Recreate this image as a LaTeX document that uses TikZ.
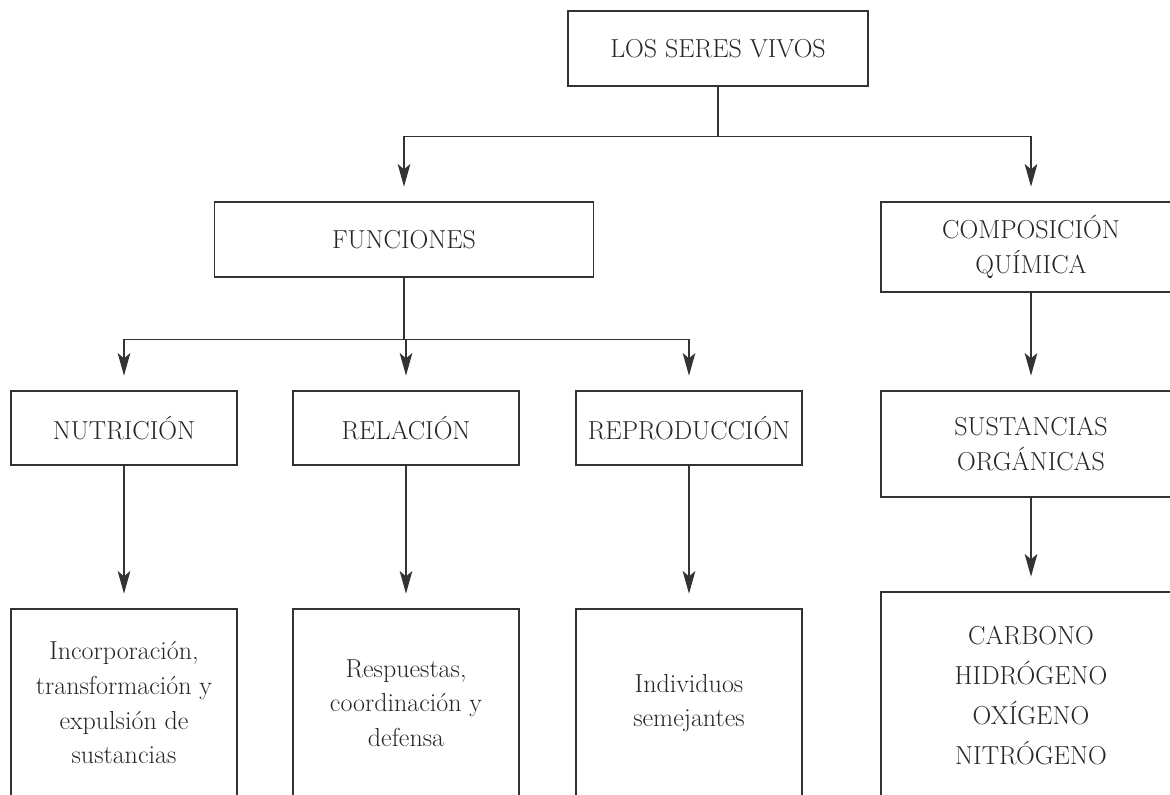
\documentclass[tikz,border=0pt]{standalone}
\usepackage{fontspec}
\usetikzlibrary{arrows.meta}
\definecolor{lineColor}{gray}{0.2}
\definecolor{textColor}{gray}{0.15}

\begin{document}
\begin{tikzpicture}[x=0.75pt,y=-0.75pt]

            \tikzstyle{conceptBox} = [draw=lineColor, line width=1pt, text=textColor, align=center, inner sep=0pt, font=\fontsize{19.5}{26}\selectfont];
            \tikzstyle{normalEdge} = [line width=1pt, lineColor];
            \tikzstyle{arrowEdge} = [normalEdge, -{Stealth[length=17pt,width=9.5pt,inset=4pt]}, shorten >=11pt];

            \clip (0,0) rectangle (1170,794);

            \node[conceptBox, minimum width=225pt, minimum height=56.25pt] (seres) at (718,48.5) {LOS SERES VIVOS};

            \node[conceptBox, minimum width=284pt, minimum height=56.25pt] (funciones) at (404,239.5) {FUNCIONES};
            \node[conceptBox, minimum width=225pt, minimum height=67.5pt] (composicion) at (1031,247) {COMPOSICIÓN\\QUÍMICA};

            \node[conceptBox, minimum width=169.5pt, minimum height=55.5pt] (nutricion)    at (124,428) {NUTRICIÓN};
            \node[conceptBox, minimum width=169.5pt, minimum height=55.5pt] (relacion)     at (406,428) {RELACIÓN};
            \node[conceptBox, minimum width=169.5pt, minimum height=55.5pt] (reproduccion) at (689,428) {REPRODUCCIÓN};
            \node[conceptBox, minimum width=225pt, minimum height=79.5pt] (sustancias)    at (1031,444) {SUSTANCIAS\\ORGÁNICAS};

            \node[conceptBox, minimum width=169.5pt, minimum height=141pt] (incorporacion) at (124,703) {Incorporación,\\transformación y\\expulsión de\\sustancias};
            \node[conceptBox, minimum width=169.5pt, minimum height=141pt] (respuestas)    at (406,703) {Respuestas,\\coordinación y\\defensa};
            \node[conceptBox, minimum width=169.5pt, minimum height=141pt] (individuos)    at (689,703) {Individuos\\semejantes};
            \node[conceptBox, minimum width=225pt, minimum height=154.5pt, font=\fontsize{19.5}{30}\selectfont] (elementos) at (1031,695) {CARBONO\\HIDRÓGENO\\OXÍGENO\\NITRÓGENO};

            \draw[normalEdge] (seres.south) -- ++(0,50) coordinate (seresSplit);
            \draw[arrowEdge] (seresSplit) -| (funciones.north);
            \draw[arrowEdge] (seresSplit) -| (composicion.north);

            \draw[normalEdge] (funciones.south) -- ++(0,62) coordinate (funcionesSplit);
            \draw[arrowEdge] (funcionesSplit) -| (nutricion.north);
            \draw[arrowEdge] (funcionesSplit) -| (relacion.north);
            \draw[arrowEdge] (funcionesSplit) -| (reproduccion.north);

            \draw[arrowEdge] (nutricion) -- (incorporacion);
            \draw[arrowEdge] (relacion) -- (respuestas);
            \draw[arrowEdge] (reproduccion) -- (individuos);

            \draw[arrowEdge] (composicion) -- (sustancias);
            \draw[arrowEdge] (sustancias) -- (elementos);
          \end{tikzpicture}
\end{document}
